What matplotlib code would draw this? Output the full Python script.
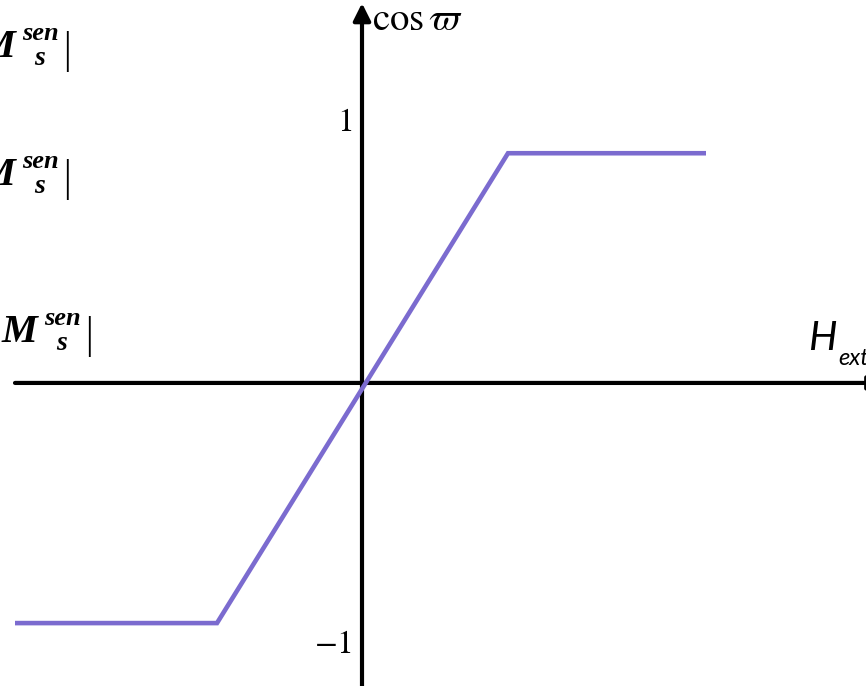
import matplotlib
matplotlib.use("Agg")
import matplotlib.pyplot as plt

plt.rcParams["mathtext.fontset"] = "stix"

# Magnetisation response: cos(varpi) versus external field H_ext
h_ext = [-3.47, -1.45, 1.46, 3.44]
cos_w = [-0.92, -0.92, 0.88, 0.88]
y_ticks = [1, -1]
y_tick_labels = [r"$1$", r"$-1$"]

W, H = 866, 686
fig = plt.figure(figsize=(W / 100, H / 100), dpi=100)
ax = fig.add_axes([0, 0, 1, 1])
ax.set_xlim(-3.62, 5.04)
ax.set_ylim(-1.161, 1.467)
ax.axis("off")

# coordinate axes with arrow heads
ax.annotate("", xy=(0, 1.455), xytext=(0, -1.17), annotation_clip=False,
            arrowprops=dict(arrowstyle="-|>", lw=3.0, color="black",
                            mutation_scale=26, shrinkA=0, shrinkB=0))
ax.annotate("", xy=(5.2, 0), xytext=(-3.47, 0), annotation_clip=False,
            arrowprops=dict(arrowstyle="-|>", lw=3.0, color="black",
                            mutation_scale=20, shrinkA=0, shrinkB=0))

# response curve
ax.plot(h_ext, cos_w, color="#7B6BCF", lw=3.3, solid_capstyle="butt",
        solid_joinstyle="miter", zorder=3)

# y tick labels
for v, lab in zip(y_ticks, y_tick_labels):
    ax.text(-0.10, v, lab, ha="right", va="center", fontsize=24)

# axis titles
ax.text(0.10, 1.395, r"$\mathrm{cos}\,\varpi$", ha="left", va="center", fontsize=28)
ax.text(4.46, 0.128, "H", ha="left", va="baseline", fontsize=29,
        family="Lato", style="italic")
ax.text(4.76, 0.07, "ext", ha="left", va="baseline", fontsize=17,
        family="Lato", style="italic")


def px(x, y):
    return x / W, 1 - y / H


def mag_label(x0, base):
    kw = dict(transform=fig.transFigure, family="Liberation Serif",
              weight="bold", style="italic", va="baseline", ha="left")
    fig.text(*px(x0, base), "M", fontsize=29, **kw)
    fig.text(*px(x0 + 42, base - 17), "sen", fontsize=19, **kw)
    fig.text(*px(x0 + 54, base + 8), "s", fontsize=20, **kw)
    fig.text(*px(x0 + 80, base + 5), "|", fontsize=29,
             transform=fig.transFigure, family="DejaVu Sans",
             va="baseline", ha="left", weight="light")


mag_label(-20, 57)
mag_label(-20, 185)
mag_label(2, 342)

fig.savefig("out.png", dpi=100)
